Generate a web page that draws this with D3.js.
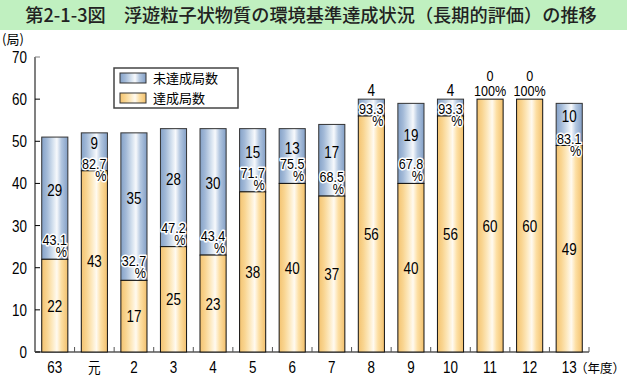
<!DOCTYPE html>
<html>
<head>
<meta charset="utf-8">
<script src="https://cdn.jsdelivr.net/npm/d3@7"></script>
<style>
  body { margin: 0; background: #fff; }
  text { font-family: "Liberation Sans", Arial, sans-serif; }
</style>
</head>
<body>
<script>
const years = ['63', '元', '2', '3', '4', '5', '6', '7', '8', '9', '10', '11', '12', '13']
const achieved = [22, 43, 17, 25, 23, 38, 40, 37, 56, 40, 56, 60, 60, 49]
const notAchieved = [29, 9, 35, 28, 30, 15, 13, 17, 4, 19, 4, 0, 0, 10]
const rates = ['43.1', '82.7', '32.7', '47.2', '43.4', '71.7', '75.5', '68.5', '93.3', '67.8', '93.3', '100', '100', '83.1']
const yTicks = [0, 10, 20, 30, 40, 50, 60, 70]

const W = 627, H = 381
const svg = d3.select('body').append('svg')
  .attr('width', W)
  .attr('height', H)

// gradients
const defs = svg.append('defs')
function grad(id, stops) {
  const g = defs.append('linearGradient').attr('id', id)
    .attr('x1', '0%').attr('x2', '100%').attr('y1', '0%').attr('y2', '0%')
  stops.forEach(s => g.append('stop').attr('offset', s[0]).attr('stop-color', s[1]))
}
grad('gOrange', [[0, '#f3c371'], [0.2, '#f9d591'], [0.4, '#fde9bf'], [0.58, '#fffaf0'], [0.75, '#fddfa3'], [1, '#f2c06d']])
grad('gBlue', [[0, '#85a2c8'], [0.2, '#a3bad8'], [0.42, '#d3e0ee'], [0.58, '#f7f9fc'], [0.75, '#b3c7e0'], [1, '#839fc6']])

// narrow text: squeeze horizontally
const SX = 0.84
const at = (fx, fy) => sel => sel.attr('transform', (d, i) => `translate(${fx(d, i)},${fy(d, i)}) scale(${SX},1)`)

// title band
svg.append('rect').attr('x', 0).attr('y', 0).attr('width', W).attr('height', 30).attr('fill', '#c0f0c0')
svg.append('text')
  .attr('x', 311).attr('y', 22)
  .attr('text-anchor', 'middle')
  .style('font-family', '"Noto Sans CJK JP", sans-serif')
  .style('font-size', '18.2px')
  .style('font-weight', 500)
  .attr('fill', '#222')
  .text('第2-1-3図　浮遊粒子状物質の環境基準達成状況（長期的評価）の推移')

const x = d3.scaleBand().domain(years).range([35, 589]).paddingInner(0.34).paddingOuter(0.17)
const y = d3.scaleLinear().domain([0, 70]).range([352, 57])
const step = x.step()

// axes
svg.append('line').attr('x1', 35).attr('x2', 35).attr('y1', y(70)).attr('y2', y(0))
  .attr('stroke', '#808080').attr('stroke-width', 2)
svg.append('line').attr('x1', 35).attr('x2', 589).attr('y1', y(0)).attr('y2', y(0))
  .attr('stroke', '#808080').attr('stroke-width', 2)

svg.selectAll('line.ytick').data(yTicks).enter().append('line')
  .attr('class', 'ytick')
  .attr('x1', 35).attr('x2', 40)
  .attr('y1', d => y(d)).attr('y2', d => y(d))
  .attr('stroke', d => d === 70 ? '#808080' : '#000').attr('stroke-width', 1)

svg.selectAll('text.ylab').data(yTicks).enter().append('text')
  .attr('class', 'ylab')
  .call(at(() => 27, d => y(d) + 6))
  .attr('text-anchor', 'end')
  .style('font-size', '16px')
  .text(d => d)

svg.append('text').attr('x', 2).attr('y', 44)
  .style('font-family', '"Noto Sans CJK JP", sans-serif')
  .style('font-size', '13px')
  .text('(局)')

// x ticks between bars
svg.selectAll('line.xtick').data(d3.range(1, years.length + 1)).enter().append('line')
  .attr('class', 'xtick')
  .attr('x1', d => 35 + d * step).attr('x2', d => 35 + d * step)
  .attr('y1', y(0)).attr('y2', y(0) - 5)
  .attr('stroke', '#555').attr('stroke-width', 1)

svg.selectAll('text.xlab').data(years).enter().append('text')
  .attr('class', 'xlab')
  .call(at(d => x(d) + x.bandwidth() / 2, () => 373))
  .attr('text-anchor', 'middle')
  .style('font-family', d => d === '元' ? '"Noto Sans CJK JP", sans-serif' : null)
  .style('font-size', d => d === '元' ? '15px' : '16px')
  .text(d => d)

svg.append('text').attr('x', 575).attr('y', 373)
  .style('font-family', '"Noto Sans CJK JP", sans-serif')
  .style('font-size', '12.5px')
  .text('（年度）')

// bars
const rows = years.map((yr, i) => ({ yr, a: achieved[i], n: notAchieved[i], r: rates[i] }))
const bars = svg.selectAll('g.bar').data(rows).enter().append('g').attr('class', 'bar')
const bw = x.bandwidth()
const cx = d => x(d.yr) + bw / 2

bars.filter(d => d.n > 0).append('rect')
  .attr('x', d => x(d.yr)).attr('width', bw)
  .attr('y', d => y(d.a + d.n)).attr('height', d => y(d.a) - y(d.a + d.n))
  .attr('fill', 'url(#gBlue)').attr('stroke', '#333').attr('stroke-width', 1)

bars.append('rect')
  .attr('x', d => x(d.yr)).attr('width', bw)
  .attr('y', d => y(d.a)).attr('height', d => y(0) - y(d.a))
  .attr('fill', 'url(#gOrange)').attr('stroke', '#111').attr('stroke-width', 1)

// achieved values
bars.append('text')
  .call(at(cx, d => y(d.a / 2) + 6))
  .attr('text-anchor', 'middle')
  .style('font-size', '16px')
  .text(d => d.a)

// rate labels
const halo = g => g.attr('stroke', '#fff').attr('stroke-width', 3).attr('paint-order', 'stroke').attr('stroke-linejoin', 'round')
const rl = bars.filter(d => d.n > 0)

// not achieved values
rl.append('text')
  .call(at(cx, d => d.n < 8 ? y(d.a + d.n) - 3 : y((d.a + 4 + d.a + d.n) / 2) + 6))
  .attr('text-anchor', 'middle')
  .style('font-size', '16px')
  .text(d => d.n)

rl.append('text')
  .call(at(cx, d => d.n >= 12 ? y(d.a) - 14 : y(d.a) - 2))
  .attr('text-anchor', 'middle')
  .style('font-size', '15px')
  .call(halo)
  .text(d => d.r)
rl.append('text')
  .call(at(d => x(d.yr) + bw - 1, d => d.n >= 12 ? y(d.a) - 2 : y(d.a) + 10))
  .attr('text-anchor', 'end')
  .style('font-size', '15px')
  .call(halo)
  .text('%')

const full = bars.filter(d => d.n === 0)
full.append('text')
  .call(at(cx, d => y(d.a) - 18))
  .attr('text-anchor', 'middle')
  .style('font-size', '15px')
  .text(d => d.n)
full.append('text')
  .call(at(cx, d => y(d.a) - 3))
  .attr('text-anchor', 'middle')
  .style('font-size', '15px')
  .text(d => d.r + '%')

// legend
const lg = svg.append('g').attr('transform', 'translate(114,68)')
lg.append('rect').attr('width', 124).attr('height', 40)
  .attr('fill', '#fff').attr('stroke', '#444').attr('stroke-width', 1.5)
const items = [['未達成局数', 'url(#gBlue)'], ['達成局数', 'url(#gOrange)']]
items.forEach((it, i) => {
  lg.append('rect').attr('x', 6).attr('y', 5 + i * 20).attr('width', 26).attr('height', 10)
    .attr('fill', it[1]).attr('stroke', '#333').attr('stroke-width', 1)
  lg.append('text').attr('x', 39).attr('y', 15 + i * 20)
    .style('font-family', '"Noto Sans CJK JP", sans-serif')
    .style('font-size', '13px')
    .text(it[0])
})
</script>
</body>
</html>
